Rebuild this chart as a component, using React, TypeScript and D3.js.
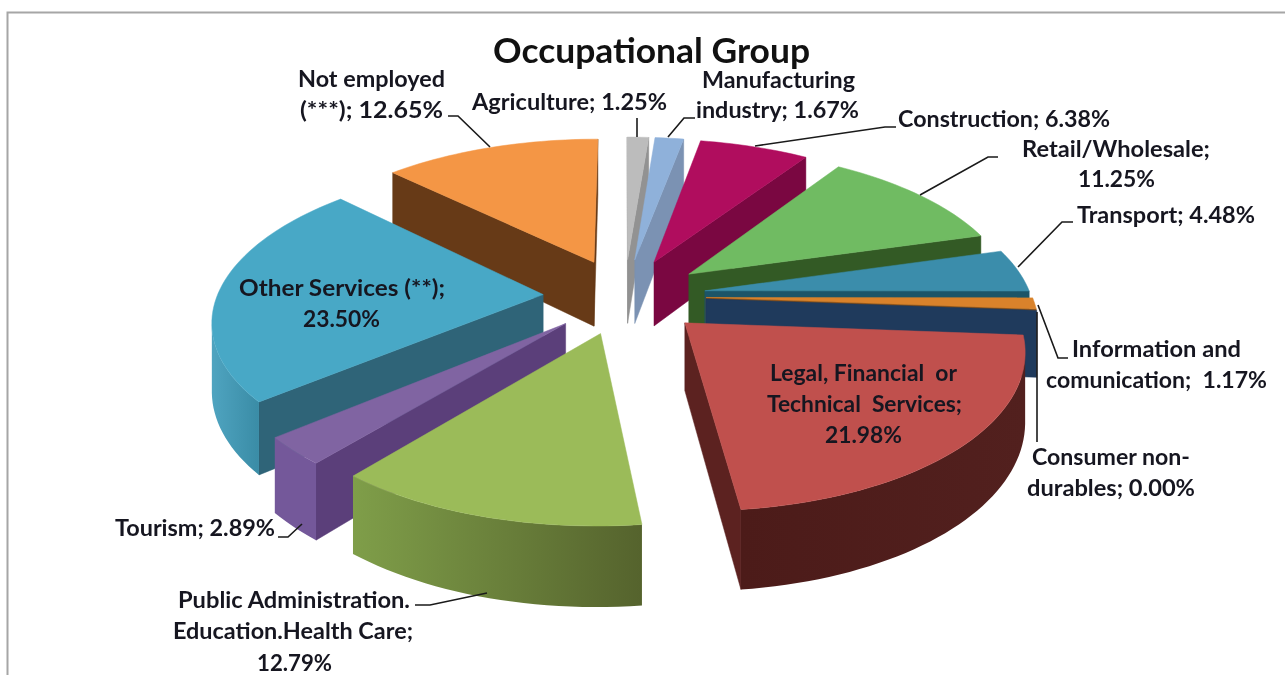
import { useEffect, useRef } from "react";
import * as d3 from "d3";

const categories = [
  "Agriculture",
  "Manufacturing industry",
  "Construction",
  "Retail/Wholesale",
  "Transport",
  "Information and comunication",
  "Consumer non-durables",
  "Legal, Financial or Technical Services",
  "Public Administration. Education.Health Care",
  "Tourism",
  "Other Services (**)",
  "Not employed (***)",
];
const values = [1.25, 1.67, 6.38, 11.25, 4.48, 1.17, 0.0, 21.98, 12.79, 2.89, 23.5, 12.65];

const topColors = ["#bcbcbc", "#8fb1da", "#b00d5e", "#70bb62", "#3b8dab", "#d9822b", "#1f3a5c", "#c0504d", "#9bbb59", "#8064a2", "#48a8c6", "#f49645"];
const wallColors = ["#929292", "#7b92b3", "#7a0741", "#335a25", "#1c5568", "#8a4f15", "#1f3a5c", "#5c2220", "#5a6a31", "#5b3f7a", "#2f6478", "#673a17"];
const rimColors = [
  ["#b0b0b0", "#a0a0a0"], ["#8fa8c8", "#8098b8"], ["#9a0b52", "#7a0741"], ["#3f6b2e", "#335a25"],
  ["#2f7d96", "#1c5568"], ["#b56f25", "#8a4f15"], ["#1f3a5c", "#1f3a5c"], ["#4c1b19", "#52201e"],
  ["#7f9e49", "#55632d"], ["#74589a", "#74589a"], ["#4fa4c0", "#3a8ca6"], ["#8a5020", "#673a17"],
];

// text, left, right, baseline of every label line
const labelLines: [string, number, number, number][] = [
  ["Agriculture; 1.25%", 472, 667, 110],
  ["Manufacturing", 702, 855, 88],
  ["industry; 1.67%", 696, 859, 118],
  ["Construction; 6.38%", 898, 1110, 127],
  ["Retail/Wholesale;", 1022, 1210, 157],
  ["11.25%", 1078, 1155, 187],
  ["Transport; 4.48%", 1077, 1255, 223],
  ["Information and", 1072, 1241, 357],
  ["comunication;\u00a0 1.17%", 1046, 1267, 388],
  ["Consumer non-", 1032, 1190, 465],
  ["durables; 0.00%", 1027, 1195, 496],
  ["Legal, Financial\u00a0 or", 770, 957, 381],
  ["Technical\u00a0 Services;", 767, 962, 412],
  ["21.98%", 825, 902, 443],
  ["Public Administration.", 178, 410, 608],
  ["Education.Health Care;", 173, 413, 639],
  ["12.79%", 257, 332, 671],
  ["Tourism; 2.89%", 115, 275, 536],
  ["Other Services (**);", 239, 445, 296],
  ["23.50%", 303, 380, 327],
  ["Not employed", 298, 445, 87],
  ["(***); 12.65%", 300, 443, 118],
];

const leaders = [
  [[637, 118], [637, 137]],
  [[695, 118], [684, 118], [668, 137]],
  [[896, 127], [885, 127], [755, 146]],
  [[998, 157], [988, 157], [920, 195]],
  [[1073, 222], [1062, 222], [1018, 267]],
  [[1068, 358], [1058, 358], [1038, 305]],
  [[1037, 442], [1037, 312]],
  [[415, 605], [430, 605], [487, 593]],
  [[278, 537], [288, 537], [302, 524]],
  [[448, 116], [458, 116], [490, 147]],
];

const W = 1285;
const H = 675;
const cx = 624.5;
const cy = 296;
const B = 326; // horizontal radius in px
const A = 151; // vertical radius in px
const K = 0.15; // perspective
const DEPTH = 66;
const EXPLODE = 0.25;

// pie plane to screen
function project(u: number, v: number, down = 0): [number, number] {
  const s = 1 / (1 + K * v);
  return [cx + B * u * s, cy - A * v * s + DEPTH * down * s];
}

export default function App() {
  const ref = useRef<SVGSVGElement>(null);

  useEffect(() => {
    const svg = d3.select(ref.current);
    svg.selectAll("*").remove();

    const font = "Lato, Carlito, sans-serif";
    const defs = svg.append("defs");
    const line = d3.line();

    // frame
    svg
      .append("path")
      .attr("d", `M7.5,675V12.5H${W}`)
      .attr("fill", "none")
      .attr("stroke", "#a6a6a6")
      .attr("stroke-width", 2);

    const arcs = d3
      .pie<number>()
      .sort(null)
      .value(d => d)(values);

    const order = d3
      .range(arcs.length)
      .sort((a, b) => {
        const ma = (arcs[a].startAngle + arcs[a].endAngle) / 2;
        const mb = (arcs[b].startAngle + arcs[b].endAngle) / 2;
        return Math.cos(mb) - Math.cos(ma);
      });

    const pies = svg.append("g");

    order.forEach(i => {
      const a = arcs[i];
      const mid = (a.startAngle + a.endAngle) / 2;
      const ox = EXPLODE * Math.sin(mid);
      const oy = EXPLODE * Math.cos(mid);
      const steps = Math.max(1, Math.ceil((a.endAngle - a.startAngle) / 0.03));
      const angles = d3.range(steps + 1).map(k => a.startAngle + ((a.endAngle - a.startAngle) * k) / steps);
      const rim = (down: number) => angles.map(t => project(ox + Math.sin(t), oy + Math.cos(t), down));
      const apex = (down: number) => project(ox, oy, down);

      const g = pies.append("g").attr("class", "slice").attr("data-category", categories[i]);
      const top = rim(0);
      const bottom = rim(1);

      const wall = (p: [number, number], q: [number, number], p2: [number, number], q2: [number, number], fill: string) => {
        // only edges running leftward face the viewer
        if (q[0] >= p[0]) return;
        g.append("path")
          .attr("d", line([p, q, q2, p2]) + "Z")
          .attr("fill", fill)
          .attr("stroke", fill)
          .attr("stroke-width", 0.5);
      };

      wall(apex(0), top[0], apex(1), bottom[0], wallColors[i]);
      wall(top[top.length - 1], apex(0), bottom[bottom.length - 1], apex(1), wallColors[i]);

      // outer wall, only the part that faces us
      const front = d3.range(top.length).filter(k => k > 0 && top[k][0] < top[k - 1][0]);
      if (front.length && a.endAngle > a.startAngle) {
        const first = front[0] - 1;
        const last = front[front.length - 1];
        const upper = top.slice(first, last + 1);
        const lower = bottom.slice(first, last + 1).reverse();
        const id = `rim${i}`;
        const grad = defs.append("linearGradient").attr("id", id);
        grad.append("stop").attr("offset", "0%").attr("stop-color", rimColors[i][0]);
        grad.append("stop").attr("offset", "100%").attr("stop-color", rimColors[i][1]);
        g.append("path")
          .attr("d", line([...upper, ...lower]) + "Z")
          .attr("fill", `url(#${id})`);
      }

      if (a.endAngle > a.startAngle) {
        g.append("path")
          .attr("d", line([apex(0), ...top]) + "Z")
          .attr("fill", topColors[i])
          .attr("stroke", topColors[i])
          .attr("stroke-width", 0.5);
      }
    });

    // leader lines
    svg
      .append("g")
      .selectAll("path")
      .data(leaders)
      .join("path")
      .attr("d", d => line(d as [number, number][]))
      .attr("fill", "none")
      .attr("stroke", "#1a1a1a")
      .attr("stroke-width", 1.6);

    // labels, each line stretched to the width it has in the picture
    svg
      .append("g")
      .attr("font-family", font)
      .attr("font-weight", 700)
      .attr("font-size", 23)
      .attr("fill", "#161620")
      .selectAll("text")
      .data(labelLines)
      .join("text")
      .attr("x", d => d[1])
      .attr("y", d => d[3])
      .attr("textLength", d => d[2] - d[1])
      .attr("lengthAdjust", "spacingAndGlyphs")
      .text(d => d[0]);

    svg
      .append("text")
      .attr("x", 493)
      .attr("y", 63)
      .attr("textLength", 317)
      .attr("lengthAdjust", "spacingAndGlyphs")
      .attr("font-family", font)
      .attr("font-weight", 700)
      .attr("font-size", 35)
      .attr("fill", "#111")
      .text("Occupational Group");
  }, []);

  return (
    <svg
      ref={ref}
      width={W}
      height={H}
      viewBox={`0 0 ${W} ${H}`}
      style={{ position: "absolute", left: 0, top: 0, background: "#fff", filter: "blur(0.5px)" }}
    />
  );
}
